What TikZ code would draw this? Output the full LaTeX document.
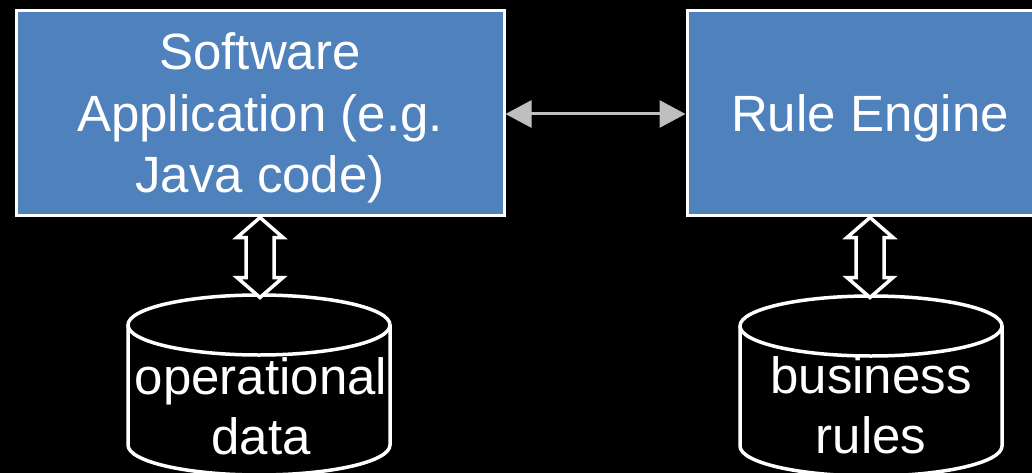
\documentclass[tikz,border=0pt]{standalone}
\usepackage{fontspec}
\setmainfont{Liberation Sans}
\usetikzlibrary{calc,arrows.meta}
\definecolor{boxblue}{HTML}{4F81BD}
\definecolor{arrgray}{HTML}{BFBFBF}
\begin{document}
\begin{tikzpicture}[x=1pt,y=-1pt,
  bluebox/.style={draw=white,line width=3pt,fill=boxblue,text=white,align=center,
    inner sep=0pt,text depth=0pt,font=\fontsize{51}{61.5}\selectfont},
  dbtext/.style={text=white,align=center,inner sep=0pt,font=\fontsize{51}{60}\selectfont},
  dbline/.style={draw=white,line width=3.5pt,fill=black},
  hollow/.style={draw=white,line width=3.5pt,fill=black,line join=miter},
  link/.style={draw=arrgray,line width=3pt,{Triangle[length=26pt,width=27pt]}-{Triangle[length=26pt,width=27pt]}}]
\fill[black] (0,0) rectangle (1032,473);
\useasboundingbox (0,0) rectangle (1032,473);
\clip (0,0) rectangle (1032,473);
% boxes
\node[bluebox,minimum width=488pt,minimum height=204pt] (app) at (260,113)
  {Software\\Application (e.g.\\Java code)};
\node[bluebox,minimum width=366pt,minimum height=204pt] (eng) at (870,113)
  {Rule Engine};
% link between boxes
\draw[link] ($(app.east)+(0,1)$) -- ($(eng.west)+(0,1)$);
% cylinders
\coordinate (c1) at (259,325);
\coordinate (c2) at (871,326);
\foreach \c in {c1,c2}{
  \draw[dbline] ($(\c)+(-131,0)$) -- ($(\c)+(-131,120)$)
     arc[start angle=180,end angle=360,x radius=131,y radius=-30]
     -- ($(\c)+(131,0)$);
  \draw[dbline] (\c) ellipse[x radius=131,y radius=30];
}
\node[dbtext] (db1) at (261,406) {operational\\data};
\node[dbtext] (db2) at (871,405) {business\\rules};
% hollow double arrows
\foreach \s/\e in {app/c1,eng/c2}{
  \coordinate (t) at ($(\s.south)+(0,1)$);
  \draw[hollow] (t) -- ++(23,20) -- ++(-9,0) -- ++(0,40) -- ++(9,0) -- ++(-23,20)
     -- ++(-23,-20) -- ++(9,0) -- ++(0,-40) -- ++(-9,0) -- cycle;
}
\end{tikzpicture}
\end{document}
